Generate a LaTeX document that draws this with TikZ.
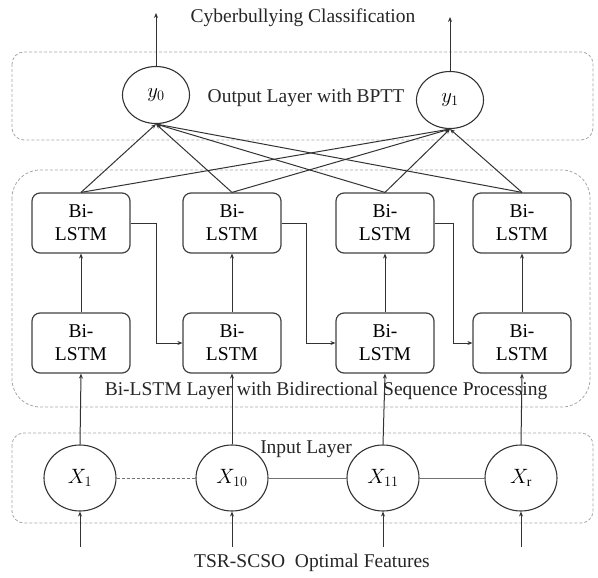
\documentclass[tikz,border=0pt]{standalone}
\usepackage{fontspec}
\setmainfont{Liberation Serif}
\usetikzlibrary{shapes.geometric,arrows.meta}
\begin{document}
\begin{tikzpicture}[x=1pt,y=-1pt,
  every node/.style={font=\rmfamily\fontsize{19.5}{23}\selectfont},
  layerbox/.style={draw=gray!70, densely dashed, line width=0.8pt, rounded corners=12pt},
  lstm/.style={draw=black!75, line width=1.2pt, rounded corners=8pt, minimum width=98pt, minimum height=60pt, align=center, inner sep=0pt},
  outnode/.style={draw=black!80, line width=1.1pt, ellipse, minimum width=67pt, minimum height=57pt, inner sep=0pt},
  innode/.style={draw=black!80, line width=1.1pt, ellipse, minimum width=72pt, minimum height=66pt, inner sep=0pt},
  conn/.style={draw=black!80, line width=1pt, -{Stealth[length=5pt,width=4pt]}},
  link/.style={draw=black!55, line width=0.8pt},
  lbl/.style={text=black!85}]
\useasboundingbox (0,0) rectangle (598,578);
% layer boxes
\draw[layerbox] (12,52) rectangle (593,140);
\draw[layerbox, rounded corners=28pt] (12,170) rectangle (590,407);
\draw[layerbox] (12,433) rectangle (593,523);
% labels
\node[lbl] (title) at (303,18) {Cyberbullying Classification};
\node[lbl] (outlbl) at (306,98) {Output Layer with BPTT};
\node[lbl] (midlbl) at (326,391) {Bi-LSTM Layer with Bidirectional Sequence Processing};
\node[lbl] (inlbl) at (306,449) {Input Layer};
\node[lbl] (feat) at (312,563) {TSR-SCSO\ \ Optimal Features};
% output nodes
\node[outnode] (y0) at (156,95) {$y_0$};
\node[outnode] (y1) at (450,100) {$y_1$};
\coordinate (o0) at (156,13);
\coordinate (o1) at (450,17);
% Bi-LSTM top
\node[lstm] (t1) at (81,223) {Bi-\\LSTM};
\node[lstm] (t2) at (232,223) {Bi-\\LSTM};
\node[lstm] (t3) at (385,223) {Bi-\\LSTM};
\node[lstm] (t4) at (522,223) {Bi-\\LSTM};
% Bi-LSTM bottom
\node[lstm] (b1) at (81,343) {Bi-\\LSTM};
\node[lstm] (b2) at (232,343) {Bi-\\LSTM};
\node[lstm] (b3) at (385,343) {Bi-\\LSTM};
\node[lstm] (b4) at (522,343) {Bi-\\LSTM};
% input nodes
\node[innode] (x1) at (80,478) {$X_1$};
\node[innode] (x2) at (232,478) {$X_{10}$};
\node[innode] (x3) at (383,478) {$X_{11}$};
\node[innode] (x4) at (521,478) {$X_{\mathrm{r}}$};
\coordinate (f1) at (80,547);
\coordinate (f2) at (232,547);
\coordinate (f3) at (383,547);
\coordinate (f4) at (521,547);
% connectors
\draw[conn] (y0.north) -- (o0);
\draw[conn] (y1.north) -- (o1);
\foreach \t in {t1,t2,t3,t4}{
  \draw[conn] (\t.north) -- (y0.south);
  \draw[conn] (\t.north) -- (y1.south);
}
\foreach \i in {1,2,3,4}{
  \draw[conn] (b\i.north) -- (t\i.south);
  \draw[conn] (x\i.north) -- (b\i.south);
  \draw[conn] (f\i) -- (x\i.south);
}
\draw[conn] (t1.east) -- ++(26,0) |- (b2.west);
\draw[conn] (t2.east) -- ++(25,0) |- (b3.west);
\draw[conn] (t3.east) -- ++(19,0) |- (b4.west);
\draw[link, densely dashed] (x1.east) -- (x2.west);
\draw[link] (x2.east) -- (x3.west);
\draw[link] (x3.east) -- (x4.west);
\end{tikzpicture}
\end{document}
